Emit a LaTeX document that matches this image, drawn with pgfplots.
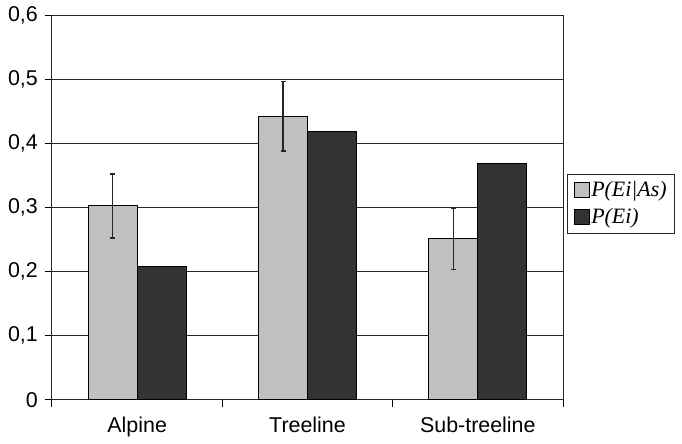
\documentclass[border=0pt]{standalone}
\usepackage{pgfplots}
\pgfplotsset{compat=1.18}
\usepackage{fontspec}
\setmainfont{Liberation Sans}
\newfontfamily\legfont{Liberation Serif}
\definecolor{lightbar}{HTML}{C0C0C0}
\definecolor{darkbar}{HTML}{333333}
\begin{document}
\fontsize{21}{25}\selectfont
\begin{tikzpicture}
\begin{axis}[
  at={(0,0)}, anchor=south west,
  scale only axis,
  width=511bp, height=384bp,
  xmin=-0.5, xmax=2.5,
  ymin=0, ymax=0.6,
  ybar=0pt, bar width=49bp,
  xtick={-0.5,0.5,1.5,2.5}, xticklabels={},
  extra x ticks={0,1,2},
  extra x tick labels={Alpine,Treeline,Sub-treeline},
  extra x tick style={major tick length=0pt, grid=none,
     tick label style={yshift=-10bp}},
  ytick={0,0.1,...,0.6},
  tick pos=left,
  tick align=outside,
  major tick length=7bp,
  tick style={black, line width=1bp},
  ymajorgrids,
  major grid style={black!85, line width=1bp},
  axis line style={black!85, line width=1bp},
  tick label style={font=\fontsize{21.5}{25}\selectfont},
  yticklabel style={/pgf/number format/.cd, fixed, precision=1, use comma, assume math mode=true},
  legend style={at={(rel axis cs:1,0.51)}, anchor=west, xshift=4bp,
    draw=black!85, line width=1bp, font=\fontsize{22}{26}\selectfont\legfont\itshape,
    inner xsep=6bp, inner ysep=5bp, row sep=4bp,
    legend cell align=left},
  legend image code/.code={\draw[#1, draw=black, line width=0.8bp] (0bp,-7bp) rectangle (15bp,8bp);},
]
\addplot[fill=lightbar, draw=black, line width=1bp,
  error bars/.cd, y dir=both, y explicit,
  error bar style={black!85, line width=1.4bp},
  error mark options={rotate=90, mark size=2.5bp, line width=1.4bp}]
  coordinates {(0,0.303) +- (0,0.050) (1,0.443) +- (0,0.054) (2,0.252) +- (0,0.048)};
\addplot[fill=darkbar, draw=black, line width=1bp]
  coordinates {(0,0.208) (1,0.420) (2,0.369)};
\legend{P(Ei|As),P(Ei)}
\end{axis}
\path[use as bounding box] (-52bp,-43bp) rectangle (630bp,397bp);
\end{tikzpicture}
\end{document}
